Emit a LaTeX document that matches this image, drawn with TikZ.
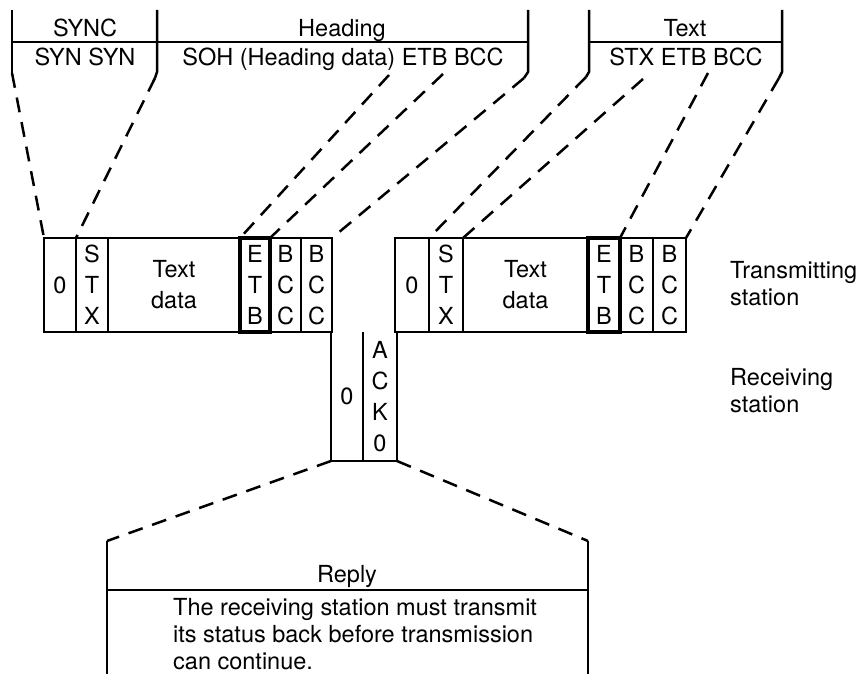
\documentclass[tikz,border=0pt]{standalone}
\usepackage{fontspec}
\setmainfont{TeX Gyre Heros}
\newcommand\dfont{\fontsize{23.5}{31}\selectfont}
\newcommand\lfont{\fontsize{23.5}{27}\selectfont}
\tikzset{
  cell/.style={draw, line width=2.5pt, inner sep=0pt, outer sep=0pt, anchor=north west,
               minimum height=94pt, align=center, font=\dfont},
  thickcell/.style={cell, line width=3.8pt},
  plaincell/.style={inner sep=0pt, outer sep=0pt, anchor=north west,
               minimum height=129pt, align=center, font=\dfont},
  solidline/.style={line width=2.5pt, line join=round},
  dashline/.style={line width=2.5pt, dash pattern=on 15pt off 10pt},
  lbl/.style={inner sep=0pt, font=\lfont},
}
\begin{document}
\begin{tikzpicture}[x=1pt,y=-1pt]
\useasboundingbox (0,0) rectangle (868,674);

% ---------- top brackets ----------
\coordinate (s1t) at (12,10);  \coordinate (s1m) at (12,42);  \coordinate (s1b) at (12,73);
\coordinate (s2t) at (157,10); \coordinate (s2b) at (157,72); \coordinate (s2k) at (155,78);
\coordinate (s3t) at (528,10); \coordinate (s3m) at (528,42); \coordinate (s3b) at (528,72); \coordinate (s3k) at (524,78);
\coordinate (t1t) at (589,10); \coordinate (t1m) at (589,42); \coordinate (t1b) at (589,72); \coordinate (t1k) at (586,77);
\coordinate (t2t) at (782,10); \coordinate (t2m) at (782,42); \coordinate (t2b) at (782,72); \coordinate (t2k) at (779,78);
\coordinate (h1) at (389,75); \coordinate (h2) at (443,74);
\coordinate (t3) at (643,79); \coordinate (t4) at (708,73);

\draw[solidline] (s1t) -- (s1b);
\draw[solidline] (s2t) -- (s2b) -- (s2k);
\draw[solidline] (s3t) -- (s3b) -- (s3k);
\draw[solidline] (s1m) -- (s3m);
\draw[solidline] (t1t) -- (t1b) -- (t1k);
\draw[solidline] (t2t) -- (t2b) -- (t2k);
\draw[solidline] (t1m) -- (t2m);

\node[lbl, anchor=base] (sync) at (85,37) {SYNC};
\node[lbl, anchor=base] (heading) at (342,37) {Heading};
\node[lbl, anchor=base] (synsyn) at (85,66) {SYN SYN};
\node[lbl, anchor=base] (soh) at (343,66) {SOH (Heading data) ETB BCC};
\node[lbl, anchor=base] (text) at (685,37) {Text};
\node[lbl, anchor=base] (stx) at (686,66) {STX ETB BCC};

% ---------- block 1 ----------
\node[cell, minimum width=32pt] (a0) at (44,238) {0};
\node[cell, minimum width=32pt] (a1) at (76,238) {S\\T\\X};
\node[cell, minimum width=132pt] (a2) at (108,238) {Text\\data};
\node[cell, minimum width=31pt] (a4) at (270,238) {B\\C\\C};
\node[cell, minimum width=31pt] (a5) at (301,238) {B\\C\\C};
\node[thickcell, minimum width=30pt] (a3) at (240,238) {E\\T\\B};

% ---------- block 2 ----------
\node[cell, minimum width=34pt] (b0) at (395,238) {0};
\node[cell, minimum width=34pt] (b1) at (429,238) {S\\T\\X};
\node[cell, minimum width=125pt] (b2) at (463,238) {Text\\data};
\node[cell, minimum width=33pt] (b4) at (620,238) {B\\C\\C};
\node[cell, minimum width=33pt] (b5) at (653,238) {B\\C\\C};
\node[thickcell, minimum width=32pt] (b3) at (588,238) {E\\T\\B};

% ---------- ACK block ----------
\node[plaincell, minimum width=32pt] (c0) at (331,332) {0};
\node[plaincell, minimum width=34pt] (c1) at (363,332) {A\\C\\K\\0};
\draw[solidline] (c0.north west) -- (c0.south west) -- (c1.south east) -- (c1.north east);
\draw[solidline] (c1.north west) -- (c1.south west);

% ---------- dashed connectors (top) ----------
\draw[dashline] (s1b) -- (a0.north west);
\draw[dashline] (s2k) -- (a1.north west);
\draw[dashline] (h1) -- (a3.north west);
\draw[dashline] (h2) -- (a4.north west);
\draw[dashline] (s3k) -- (a5.north east);
\draw[dashline] (t1k) -- (b1.north west);
\draw[dashline] (t3) -- (b2.north west);
\draw[dashline] (t4) -- (b4.north west);
\draw[dashline] (t2k) -- (b5.north east);

% ---------- side labels ----------
\node[lbl, anchor=west, align=left] (trans) at (730,284) {Transmitting\\station};
\node[lbl, anchor=west, align=left] (recv) at (730,391) {Receiving\\station};

% ---------- reply box ----------
\coordinate (r1) at (107,541); \coordinate (r1m) at (107,590); \coordinate (r1b) at (107,674);
\coordinate (r2) at (588,541); \coordinate (r2m) at (588,590); \coordinate (r2b) at (588,674);
\draw[dashline] (c0.south west) -- (r1);
\draw[dashline] (c1.south east) -- (r2);
\draw[solidline] (r1) -- (r1b);
\draw[solidline] (r2) -- (r2b);
\draw[solidline] (r1m) -- (r2m);
\node[lbl, anchor=base] (reply) at (347,582) {Reply};
\node[lbl, anchor=north west, align=left] (replytext) at (173,598)
  {The receiving station must transmit\\its status back before transmission\\can continue.};
\end{tikzpicture}
\end{document}
